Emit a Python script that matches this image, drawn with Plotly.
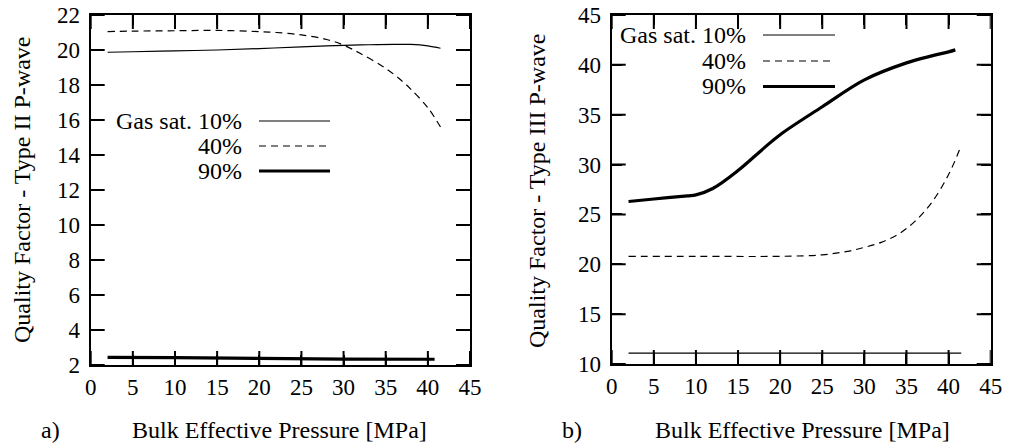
import plotly.graph_objects as go

# ---- data: panel a) Type II P-wave ----
a_x10 = [2, 5, 10, 15, 20, 25, 28, 30, 33, 36, 38, 40, 41.5]
a_y10 = [19.87, 19.9, 19.95, 20.0, 20.08, 20.18, 20.23, 20.26, 20.3, 20.32, 20.32, 20.24, 20.1]
a_x40 = [2, 5, 10, 15, 20, 22, 25, 28, 30, 32, 35, 37, 38, 40, 41.5]
a_y40 = [21.05, 21.08, 21.1, 21.12, 21.05, 21.0, 20.86, 20.6, 20.28, 19.8, 18.95, 18.2, 17.75, 16.7, 15.6]
a_x90 = [2, 10, 20, 30, 40.8]
a_y90 = [2.44, 2.42, 2.38, 2.34, 2.33]

# ---- data: panel b) Type III P-wave ----
b_x10 = [2, 10, 20, 30, 41.5]
b_y10 = [11.1, 11.1, 11.1, 11.1, 11.1]
b_x40 = [2, 10, 20, 25, 28, 30, 32, 34, 36, 38, 40, 41.5]
b_y40 = [20.8, 20.8, 20.8, 20.95, 21.3, 21.7, 22.2, 23.0, 24.3, 26.2, 29.0, 31.9]
b_x90 = [2, 5, 9, 10, 12, 15, 18, 20, 25, 30, 35, 38, 40, 40.8]
b_y90 = [26.3, 26.55, 26.86, 26.96, 27.6, 29.4, 31.6, 33.0, 35.8, 38.5, 40.2, 40.9, 41.3, 41.5]

legend_labels = ["Gas sat. 10%", "40%", "90%"]
x_ticks = [0, 5, 10, 15, 20, 25, 30, 35, 40, 45]
a_y_ticks = [2, 4, 6, 8, 10, 12, 14, 16, 18, 20, 22]
b_y_ticks = [10, 15, 20, 25, 30, 35, 40, 45]
x_range = [0, 45]
a_y_range = [2, 22]
b_y_range = [10, 45]

W, H = 1011, 446
FONT = "Liberation Serif"
FS_TICK = 23
FS_TEXT = 24

styles = [dict(color="black", width=1.2, dash="solid"),
          dict(color="black", width=1.2, dash="7px,5px"),
          dict(color="black", width=3.2, dash="solid")]

# panel geometry in pixels: (left, right, top, bottom)
panel_a = (90.7, 470.0, 15.0, 365.0)
panel_b = (611.7, 990.7, 15.0, 364.0)

def px(x):
    return x / W

def py(y):
    return 1 - y / H

def pix_to_data(panel, xr, yr, xp, yp):
    l, r, t, b = panel
    xd = xr[0] + (xp - l) / (r - l) * (xr[1] - xr[0])
    yd = yr[1] - (yp - t) / (b - t) * (yr[1] - yr[0])
    return xd, yd

fig = go.Figure()

for (xs, ys), st in zip([(a_x10, a_y10), (a_x40, a_y40), (a_x90, a_y90)], styles):
    fig.add_trace(go.Scatter(x=xs, y=ys, mode="lines", xaxis="x", yaxis="y",
                             line=dict(shape="spline", **st)))
for (xs, ys), st in zip([(b_x10, b_y10), (b_x40, b_y40), (b_x90, b_y90)], styles):
    fig.add_trace(go.Scatter(x=xs, y=ys, mode="lines", xaxis="x2", yaxis="y2",
                             line=dict(shape="spline", **st)))

# inward tick marks on all four sides (clipped line markers at the tick values)
def frame_ticks(xt, yt, xr, yr, xa, ya):
    tick_marker_v = dict(symbol="line-ns", size=20, line=dict(width=2, color="black"))
    tick_marker_h = dict(symbol="line-ew", size=20, line=dict(width=2, color="black"))
    for yy in (yr[0], yr[1]):
        fig.add_trace(go.Scatter(x=xt, y=[yy] * len(xt), mode="markers", xaxis=xa, yaxis=ya,
                                 marker=tick_marker_v, cliponaxis=True, hoverinfo="skip"))
    for xx in (xr[0], xr[1]):
        fig.add_trace(go.Scatter(x=[xx] * len(yt), y=yt, mode="markers", xaxis=xa, yaxis=ya,
                                 marker=tick_marker_h, cliponaxis=True, hoverinfo="skip"))

frame_ticks(x_ticks, a_y_ticks, x_range, a_y_range, "x", "y")
frame_ticks(x_ticks, b_y_ticks, x_range, b_y_range, "x2", "y2")

annotations = []
def ann(text, x, y, xanchor="center", angle=0, size=FS_TEXT):
    annotations.append(dict(text=text, x=px(x), y=py(y), xref="paper", yref="paper",
                            xanchor=xanchor, yanchor="middle", showarrow=False, textangle=angle,
                            font=dict(family=FONT, size=size, color="black")))

ann("Bulk Effective Pressure [MPa]", 279, 430)
ann("Bulk Effective Pressure [MPa]", 802, 430)
ann("a)", 50, 430)
ann("b)", 572, 430)
ann("Quality Factor - Type II P-wave", 22, 190, angle=-90)
ann("Quality Factor - Type III P-wave", 537, 191, angle=-90)

# legend keys: text on the left, line sample on the right (drawn on the panel's own axes)
def legend_block(panel, xr, yr, xa, ya, text_right, line_x0, line_x1, rows_y):
    for lab, st, yy in zip(legend_labels, styles, rows_y):
        ann(lab, text_right, yy, xanchor="right")
        x0, y0 = pix_to_data(panel, xr, yr, line_x0, yy)
        x1, _ = pix_to_data(panel, xr, yr, line_x1, yy)
        fig.add_trace(go.Scatter(x=[x0, x1], y=[y0, y0], mode="lines", xaxis=xa, yaxis=ya,
                                 line=st, hoverinfo="skip"))

legend_block(panel_a, x_range, a_y_range, "x", "y", 244, 259, 330, [121, 146, 171])
legend_block(panel_b, x_range, b_y_range, "x2", "y2", 748, 763, 835, [35, 61, 86.5])

def axis(rng, tv, **kw):
    d = dict(range=rng, tickmode="array", tickvals=tv,
             showline=True, linecolor="black", linewidth=2, mirror="allticks",
             ticks="inside", ticklen=10, tickwidth=2, tickcolor="black",
             showgrid=False, zeroline=False, automargin=False, layer="above traces",
             tickfont=dict(family=FONT, size=FS_TICK, color="black"))
    d.update(kw)
    return d

fig.layout["xaxis"] = axis(x_range, x_ticks, domain=[px(panel_a[0]), px(panel_a[1])], anchor="y")
fig.layout["yaxis"] = axis(a_y_range, a_y_ticks, domain=[py(panel_a[3]), py(panel_a[2])], anchor="x",
                           ticklabelstandoff=4)
fig.layout["xaxis2"] = axis(x_range, x_ticks, domain=[px(panel_b[0]), px(panel_b[1])], anchor="y2")
fig.layout["yaxis2"] = axis(b_y_range, b_y_ticks, domain=[py(panel_b[3]), py(panel_b[2])], anchor="x2",
                            ticklabelstandoff=4)

fig.update_layout(width=W, height=H, margin=dict(l=0, r=0, t=0, b=0),
                  plot_bgcolor="white", showlegend=False, annotations=annotations)

fig.write_html("out.html")
